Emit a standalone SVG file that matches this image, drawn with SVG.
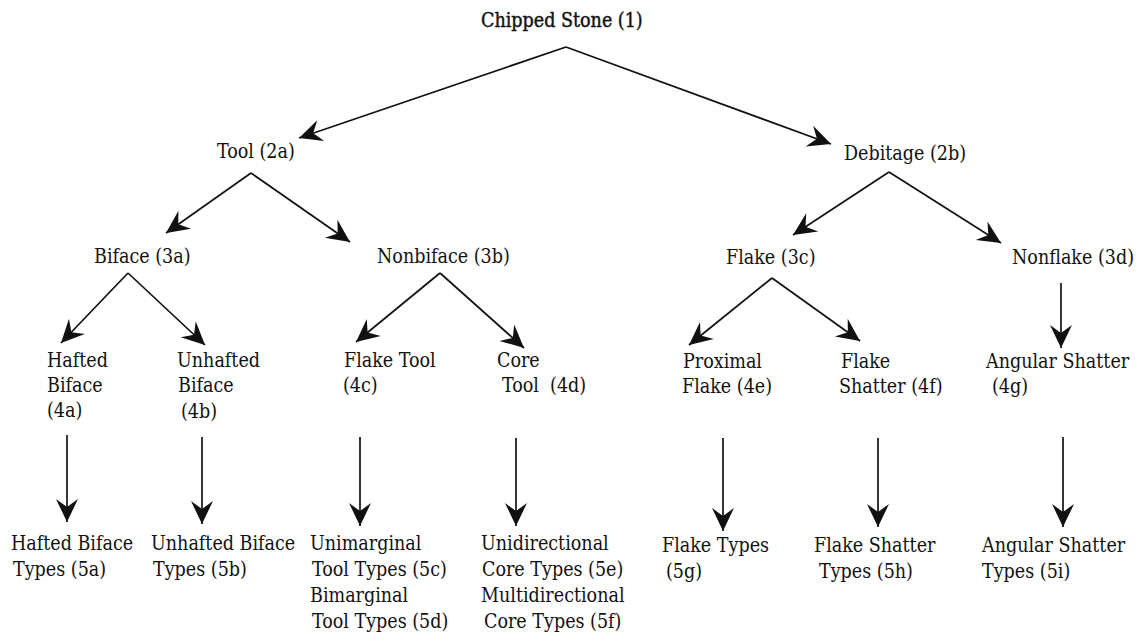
<svg xmlns="http://www.w3.org/2000/svg" width="1142" height="641" viewBox="0 0 1142 641">
<defs>
<marker id="ah" markerUnits="userSpaceOnUse" markerWidth="30" markerHeight="28" viewBox="-26 -14 28 28" refX="0" refY="0" orient="auto">
<path d="M0,0 L-23,-11 L-15,0 L-23,11 Z" fill="#111"/>
</marker>
</defs>
<style>
text{font-family:"DejaVu Serif Condensed","DejaVu Serif",serif;font-stretch:condensed;font-size:19.5px;fill:#111}
.b{stroke:#111;stroke-width:0.4}
.c{stroke:#111;stroke-width:1.7;fill:none;marker-end:url(#ah)}
</style>
<rect width="1142" height="641" fill="#fff"/>
<g id="connectors">
<line class="c" x1="566" y1="47" x2="299" y2="138"/>
<line class="c" x1="566" y1="47" x2="831" y2="144"/>
<line class="c" x1="251" y1="173" x2="166" y2="233"/>
<line class="c" x1="251" y1="173" x2="350" y2="242"/>
<line class="c" x1="889" y1="172" x2="793" y2="235"/>
<line class="c" x1="889" y1="172" x2="1001" y2="243"/>
<line class="c" x1="128" y1="273" x2="61" y2="343"/>
<line class="c" x1="128" y1="273" x2="205" y2="345"/>
<line class="c" x1="440" y1="273" x2="356" y2="342"/>
<line class="c" x1="440" y1="273" x2="524" y2="348"/>
<line class="c" x1="772" y1="278" x2="689" y2="345"/>
<line class="c" x1="772" y1="278" x2="860" y2="341"/>
<line class="c" x1="1061" y1="283" x2="1061" y2="348"/>
<line class="c" x1="67" y1="435" x2="67" y2="522"/>
<line class="c" x1="202" y1="437" x2="202" y2="524"/>
<line class="c" x1="360" y1="437" x2="360" y2="526"/>
<line class="c" x1="516" y1="438" x2="516" y2="526"/>
<line class="c" x1="723" y1="438" x2="723" y2="531"/>
<line class="c" x1="878" y1="438" x2="878" y2="527"/>
<line class="c" x1="1063" y1="437" x2="1063" y2="527"/>
</g>
<g id="n1"><text class="b" x="481" y="27">Chipped Stone (1)</text></g>
<g id="n2a"><text x="217" y="158">Tool (2a)</text></g>
<g id="n2b"><text x="844" y="160">Debitage (2b)</text></g>
<g id="n3a"><text x="94" y="263">Biface (3a)</text></g>
<g id="n3b"><text x="377" y="263">Nonbiface (3b)</text></g>
<g id="n3c"><text x="726" y="264">Flake (3c)</text></g>
<g id="n3d"><text x="1012" y="264">Nonflake (3d)</text></g>
<g id="n4a"><text x="47" y="367">Hafted</text><text x="47" y="392">Biface</text><text x="47" y="417">(4a)</text></g>
<g id="n4b"><text x="177" y="367">Unhafted</text><text x="178" y="392">Biface</text><text x="181" y="418">(4b)</text></g>
<g id="n4c"><text x="344" y="367">Flake Tool</text><text x="343" y="392">(4c)</text></g>
<g id="n4d"><text x="497" y="367">Core</text><text x="502" y="392" xml:space="preserve">Tool  (4d)</text></g>
<g id="n4e"><text x="683" y="368">Proximal</text><text x="682" y="393">Flake (4e)</text></g>
<g id="n4f"><text x="841" y="368">Flake</text><text x="839" y="393">Shatter (4f)</text></g>
<g id="n4g"><text x="986" y="368">Angular Shatter</text><text x="992" y="393">(4g)</text></g>
<g id="n5a"><text x="11" y="550">Hafted Biface</text><text x="13" y="576">Types (5a)</text></g>
<g id="n5b"><text x="151" y="550">Unhafted Biface</text><text x="153" y="576">Types (5b)</text></g>
<g id="n5cd"><text x="310" y="550">Unimarginal</text><text x="312" y="576">Tool Types (5c)</text><text x="310" y="602">Bimarginal</text><text x="312" y="628">Tool Types (5d)</text></g>
<g id="n5ef"><text x="481" y="550">Unidirectional</text><text x="482" y="576">Core Types (5e)</text><text x="481" y="602">Multidirectional</text><text x="484" y="628">Core Types (5f)</text></g>
<g id="n5g"><text x="662" y="552">Flake Types</text><text x="666" y="578">(5g)</text></g>
<g id="n5h"><text x="814" y="552">Flake Shatter</text><text x="819" y="578">Types (5h)</text></g>
<g id="n5i"><text x="982" y="552">Angular Shatter</text><text x="982" y="578">Types (5i)</text></g>
</svg>
